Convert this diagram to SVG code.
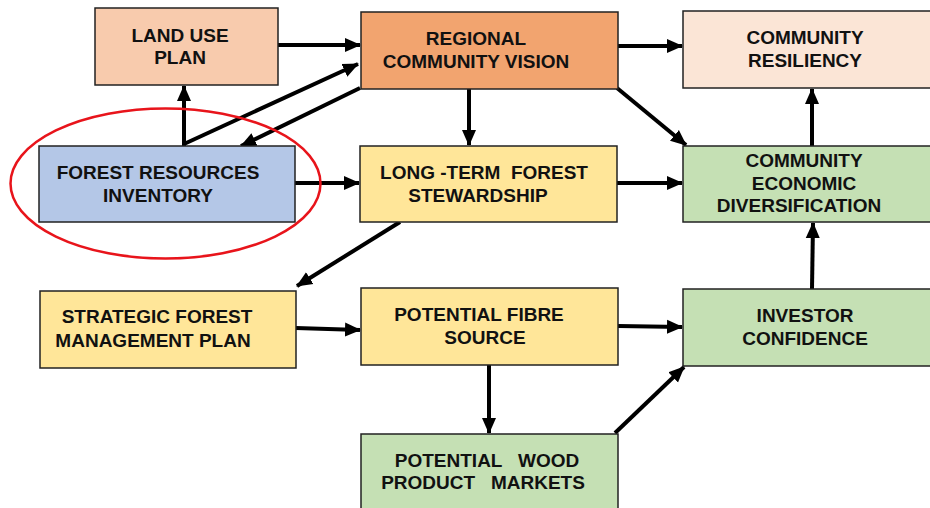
<svg xmlns="http://www.w3.org/2000/svg" width="930" height="508" viewBox="0 0 930 508">
<style>
.box{stroke:#222;stroke-width:1.5}
.t{font-family:"Liberation Sans",Arial,sans-serif;font-weight:bold;font-size:19px;fill:#111;text-anchor:middle;white-space:pre}
.c{stroke:#000;stroke-width:4;fill:none;marker-end:url(#ah)}
</style>
<defs>
<marker id="ah" markerUnits="userSpaceOnUse" markerWidth="16" markerHeight="16" viewBox="0 0 16 16" refX="15" refY="8" orient="auto">
<path d="M0,1 L16,8 L0,15 Z" fill="#000"/>
</marker>
</defs>
<rect width="930" height="508" fill="#fff"/>
<g id="connectors">
<line class="c" x1="278" y1="45" x2="360" y2="45"/>
<line class="c" x1="184" y1="146" x2="184" y2="86"/>
<polyline class="c" points="184,144 358,64"/>
<line class="c" x1="360" y1="88" x2="241" y2="146"/>
<line class="c" x1="295" y1="183" x2="359" y2="183"/>
<line class="c" x1="469" y1="89" x2="469" y2="145"/>
<line class="c" x1="618" y1="46" x2="682" y2="46"/>
<line class="c" x1="617" y1="88" x2="686" y2="145"/>
<line class="c" x1="617" y1="183" x2="682" y2="183"/>
<line class="c" x1="812" y1="146" x2="812" y2="89"/>
<line class="c" x1="812" y1="289" x2="813" y2="223"/>
<line class="c" x1="400" y1="222" x2="297" y2="286"/>
<line class="c" x1="296" y1="328" x2="360" y2="330"/>
<line class="c" x1="618" y1="326" x2="682" y2="327"/>
<line class="c" x1="489" y1="365" x2="489" y2="433"/>
<line class="c" x1="615" y1="433" x2="684" y2="367"/>
</g>
<g id="land-use-plan">
<rect class="box" x="95" y="8" width="183" height="77" fill="#F8CBAD"/>
<text class="t" x="180" y="42">LAND USE</text>
<text class="t" x="180" y="64">PLAN</text>
</g>
<g id="regional-community-vision">
<rect class="box" x="361" y="12" width="257" height="77" fill="#F2A46F"/>
<text class="t" x="476" y="45">REGIONAL</text>
<text class="t" x="476" y="68">COMMUNITY VISION</text>
</g>
<g id="community-resiliency">
<rect class="box" x="683" y="11" width="260" height="77" fill="#FBE5D6"/>
<text class="t" x="805" y="44">COMMUNITY</text>
<text class="t" x="805" y="67">RESILIENCY</text>
</g>
<g id="forest-resources-inventory">
<rect class="box" x="39" y="146" width="256" height="76" fill="#B4C7E7"/>
<text class="t" x="158" y="179">FOREST RESOURCES</text>
<text class="t" x="158" y="202">INVENTORY</text>
<ellipse cx="165.5" cy="183.5" rx="155" ry="75" fill="none" stroke="#E8141B" stroke-width="2.5"/>
</g>
<g id="long-term-forest-stewardship">
<rect class="box" x="360" y="146" width="257" height="76" fill="#FFE699"/>
<text class="t" x="484" y="179">LONG -TERM  FOREST</text>
<text class="t" x="478" y="202">STEWARDSHIP</text>
</g>
<g id="community-economic-diversification">
<rect class="box" x="683" y="146" width="260" height="76" fill="#C5E0B4"/>
<text class="t" x="804" y="167">COMMUNITY</text>
<text class="t" x="804" y="190">ECONOMIC</text>
<text class="t" x="799" y="212">DIVERSIFICATION</text>
</g>
<g id="strategic-forest-management-plan">
<rect class="box" x="40" y="291" width="256" height="77" fill="#FFE699"/>
<text class="t" x="157" y="323">STRATEGIC FOREST</text>
<text class="t" x="153" y="347">MANAGEMENT PLAN</text>
</g>
<g id="potential-fibre-source">
<rect class="box" x="361" y="288" width="257" height="77" fill="#FFE699"/>
<text class="t" x="479" y="321">POTENTIAL FIBRE</text>
<text class="t" x="485" y="344">SOURCE</text>
</g>
<g id="investor-confidence">
<rect class="box" x="683" y="289" width="260" height="77" fill="#C5E0B4"/>
<text class="t" x="805" y="322">INVESTOR</text>
<text class="t" x="805" y="345">CONFIDENCE</text>
</g>
<g id="potential-wood-product-markets">
<rect class="box" x="361" y="434" width="257" height="90" fill="#C5E0B4"/>
<text class="t" x="487" y="467">POTENTIAL   WOOD</text>
<text class="t" x="483" y="489">PRODUCT   MARKETS</text>
</g>
</svg>
